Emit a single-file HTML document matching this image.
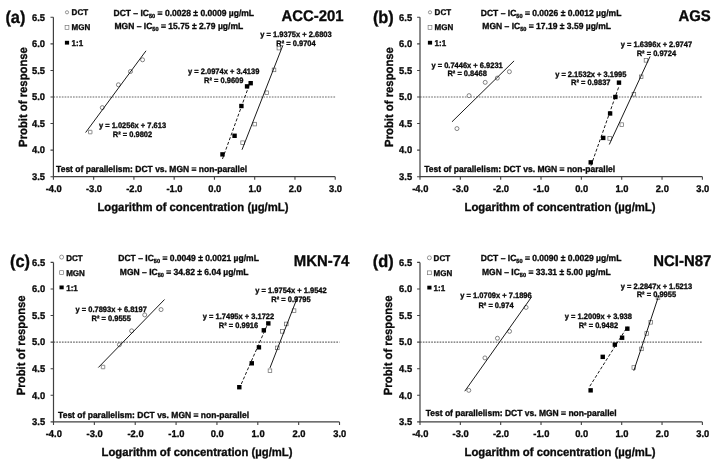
<!DOCTYPE html>
<html><head><meta charset="utf-8"><title>Probit analysis</title>
<style>
html,body{margin:0;padding:0;background:#fff;}
body{width:726px;height:467px;overflow:hidden;font-family:"Liberation Sans",sans-serif;}
svg{display:block;will-change:transform;}
svg text{text-rendering:geometricPrecision;font-family:"Liberation Sans",sans-serif;font-weight:bold;fill:#0a0a0a;stroke:#0a0a0a;stroke-width:0.32px;}
</style></head><body>
<svg width="726" height="467" viewBox="0 0 726 467">
<rect width="726" height="467" fill="#fff"/>
<g id="pa">
<line x1="53.4" y1="97" x2="335.22" y2="97" stroke="#6a6a6a" stroke-width="1.15" stroke-dasharray="1.7 1.1"/>
<path d="M53.4 17.3V176.69H335.22" fill="none" stroke="#404040" stroke-width="1.2"/>
<text transform="translate(45 179.94) scale(1 1.045)" font-size="9.35" text-anchor="end">3.5</text>
<text transform="translate(45 153.38) scale(1 1.045)" font-size="9.35" text-anchor="end">4.0</text>
<text transform="translate(45 126.81) scale(1 1.045)" font-size="9.35" text-anchor="end">4.5</text>
<text transform="translate(45 100.25) scale(1 1.045)" font-size="9.35" text-anchor="end">5.0</text>
<text transform="translate(45 73.69) scale(1 1.045)" font-size="9.35" text-anchor="end">5.5</text>
<text transform="translate(45 47.12) scale(1 1.045)" font-size="9.35" text-anchor="end">6.0</text>
<text transform="translate(45 20.55) scale(1 1.045)" font-size="9.35" text-anchor="end">6.5</text>
<text transform="translate(53.7 192) scale(1 1.045)" font-size="9.35" text-anchor="middle">-4.0</text>
<text transform="translate(93.96 192) scale(1 1.045)" font-size="9.35" text-anchor="middle">-3.0</text>
<text transform="translate(134.22 192) scale(1 1.045)" font-size="9.35" text-anchor="middle">-2.0</text>
<text transform="translate(174.48 192) scale(1 1.045)" font-size="9.35" text-anchor="middle">-1.0</text>
<text transform="translate(214.74 192) scale(1 1.045)" font-size="9.35" text-anchor="middle">0.0</text>
<text transform="translate(255 192) scale(1 1.045)" font-size="9.35" text-anchor="middle">1.0</text>
<text transform="translate(295.26 192) scale(1 1.045)" font-size="9.35" text-anchor="middle">2.0</text>
<text transform="translate(335.52 192) scale(1 1.045)" font-size="9.35" text-anchor="middle">3.0</text>
<path d="M50.5 176.69H53.4M50.5 150.13H53.4M50.5 123.56H53.4M50.5 97H53.4M50.5 70.44H53.4M50.5 43.87H53.4M50.5 17.3H53.4M53.4 176.69V179.69M93.66 176.69V179.69M133.92 176.69V179.69M174.18 176.69V179.69M214.44 176.69V179.69M254.7 176.69V179.69M294.96 176.69V179.69M335.22 176.69V179.69" fill="none" stroke="#404040" stroke-width="1.1"/>
<rect x="88.48" y="130.32" width="3.5" height="3.5" rx="0.3" fill="#fff" stroke="#5c5c5c" stroke-width="0.7"/>
<circle cx="102.31" cy="107.63" r="2" fill="#fff" stroke="#5c5c5c" stroke-width="0.75"/>
<circle cx="118.42" cy="84.78" r="2" fill="#fff" stroke="#5c5c5c" stroke-width="0.75"/>
<circle cx="130.49" cy="71.5" r="2" fill="#fff" stroke="#5c5c5c" stroke-width="0.75"/>
<circle cx="142.57" cy="59.81" r="2" fill="#fff" stroke="#5c5c5c" stroke-width="0.75"/>
<rect x="240.82" y="140.89" width="3.6" height="3.6" fill="#fff" stroke="#666" stroke-width="0.7"/>
<rect x="252.9" y="122.3" width="3.6" height="3.6" fill="#fff" stroke="#666" stroke-width="0.7"/>
<rect x="264.98" y="90.95" width="3.6" height="3.6" fill="#fff" stroke="#666" stroke-width="0.7"/>
<rect x="272.22" y="68.1" width="3.6" height="3.6" fill="#fff" stroke="#666" stroke-width="0.7"/>
<rect x="277.06" y="46.32" width="3.6" height="3.6" fill="#fff" stroke="#666" stroke-width="0.7"/>
<rect x="220.29" y="152.18" width="4.4" height="4.4" fill="#000"/>
<rect x="232.37" y="133.58" width="4.4" height="4.4" fill="#000"/>
<rect x="239.21" y="103.83" width="4.4" height="4.4" fill="#000"/>
<rect x="244.85" y="84.17" width="4.4" height="4.4" fill="#000"/>
<rect x="248.47" y="80.99" width="4.4" height="4.4" fill="#000"/>
<line x1="85.61" y1="132.54" x2="146" y2="50.8" stroke="#000" stroke-width="0.9"/>
<line x1="242.02" y1="149.73" x2="282.88" y2="45.25" stroke="#000" stroke-width="0.9"/>
<line x1="222.49" y1="158.98" x2="250.67" y2="80.98" stroke="#000" stroke-width="0.9" stroke-dasharray="3.1 1.9"/>
<text transform="translate(132.5 128.3) scale(1 1.045)" font-size="7.5" text-anchor="middle">y = 1.0256x + 7.613</text>
<text transform="translate(132.5 137) scale(1 1.045)" font-size="7.5" text-anchor="middle">R² = 0.9802</text>
<text transform="translate(296 36.8) scale(1 1.045)" font-size="7.5" text-anchor="middle">y = 1.9375x + 2.6803</text>
<text transform="translate(296 46.1) scale(1 1.045)" font-size="7.5" text-anchor="middle">R² = 0.9704</text>
<text transform="translate(223.7 74.1) scale(1 1.045)" font-size="7.5" text-anchor="middle">y = 2.0974x + 3.4139</text>
<text transform="translate(223.7 82.7) scale(1 1.045)" font-size="7.5" text-anchor="middle">R² = 0.9609</text>
<circle cx="67" cy="12.3" r="1.6" fill="#fff" stroke="#6a6a6a" stroke-width="0.7"/>
<rect x="65.1" y="25.5" width="3.8" height="3.8" fill="#fff" stroke="#707070" stroke-width="0.65"/>
<rect x="64.9" y="40.8" width="4.2" height="3.8" fill="#000"/>
<text transform="translate(71.6 15.4) scale(1 1.045)" font-size="8">DCT</text>
<text transform="translate(71.6 30.3) scale(1 1.045)" font-size="8">MGN</text>
<text transform="translate(71.6 45.5) scale(1 1.045)" font-size="8">1:1</text>
<text transform="translate(113.5 16.4) scale(1 1.045)" font-size="8.52">DCT – IC<tspan font-size="5.6" dy="1.7">50</tspan><tspan dy="-1.7"> = 0.0028 ± 0.0009 µg/mL</tspan></text>
<text transform="translate(114.5 29.4) scale(1 1.045)" font-size="8.52">MGN – IC<tspan font-size="5.6" dy="1.7">50</tspan><tspan dy="-1.7"> = 15.75 ± 2.79 µg/mL</tspan></text>
<text transform="translate(5.4 22.8) scale(1 1.045)" font-size="16.4">(a)</text>
<text transform="translate(343.6 20.5) scale(1 1.045)" font-size="14.9" text-anchor="end">ACC-201</text>
<text transform="translate(56.1 172.1) scale(1 1.045)" font-size="8.5">Test of parallelism: DCT vs. MGN = non-parallel</text>
<text transform="translate(192.9 210.9) scale(1 1.045)" font-size="11.3" text-anchor="middle">Logarithm of concentration (µg/mL)</text>
<text transform="translate(27 97) rotate(-90) scale(1 1.045)" font-size="11.3" text-anchor="middle">Probit of response</text>
</g>
<g id="pb">
<line x1="420" y1="97" x2="702.38" y2="97" stroke="#6a6a6a" stroke-width="1.15" stroke-dasharray="1.7 1.1"/>
<path d="M420 17.3V176.69H702.38" fill="none" stroke="#404040" stroke-width="1.2"/>
<text transform="translate(412.1 179.94) scale(1 1.045)" font-size="9.35" text-anchor="end">3.5</text>
<text transform="translate(412.1 153.38) scale(1 1.045)" font-size="9.35" text-anchor="end">4.0</text>
<text transform="translate(412.1 126.81) scale(1 1.045)" font-size="9.35" text-anchor="end">4.5</text>
<text transform="translate(412.1 100.25) scale(1 1.045)" font-size="9.35" text-anchor="end">5.0</text>
<text transform="translate(412.1 73.69) scale(1 1.045)" font-size="9.35" text-anchor="end">5.5</text>
<text transform="translate(412.1 47.12) scale(1 1.045)" font-size="9.35" text-anchor="end">6.0</text>
<text transform="translate(412.1 20.55) scale(1 1.045)" font-size="9.35" text-anchor="end">6.5</text>
<text transform="translate(420.3 192) scale(1 1.045)" font-size="9.35" text-anchor="middle">-4.0</text>
<text transform="translate(460.64 192) scale(1 1.045)" font-size="9.35" text-anchor="middle">-3.0</text>
<text transform="translate(500.98 192) scale(1 1.045)" font-size="9.35" text-anchor="middle">-2.0</text>
<text transform="translate(541.32 192) scale(1 1.045)" font-size="9.35" text-anchor="middle">-1.0</text>
<text transform="translate(581.66 192) scale(1 1.045)" font-size="9.35" text-anchor="middle">0.0</text>
<text transform="translate(622 192) scale(1 1.045)" font-size="9.35" text-anchor="middle">1.0</text>
<text transform="translate(662.34 192) scale(1 1.045)" font-size="9.35" text-anchor="middle">2.0</text>
<text transform="translate(702.68 192) scale(1 1.045)" font-size="9.35" text-anchor="middle">3.0</text>
<path d="M417.1 176.69H420M417.1 150.13H420M417.1 123.56H420M417.1 97H420M417.1 70.44H420M417.1 43.87H420M417.1 17.3H420M420 176.69V179.69M460.34 176.69V179.69M500.68 176.69V179.69M541.02 176.69V179.69M581.36 176.69V179.69M621.7 176.69V179.69M662.04 176.69V179.69M702.38 176.69V179.69" fill="none" stroke="#404040" stroke-width="1.1"/>
<circle cx="456.96" cy="128.58" r="2" fill="#fff" stroke="#5c5c5c" stroke-width="0.75"/>
<circle cx="469.06" cy="95.64" r="2" fill="#fff" stroke="#5c5c5c" stroke-width="0.75"/>
<circle cx="485.19" cy="82.35" r="2" fill="#fff" stroke="#5c5c5c" stroke-width="0.75"/>
<circle cx="497.3" cy="78.1" r="2" fill="#fff" stroke="#5c5c5c" stroke-width="0.75"/>
<circle cx="509.4" cy="71.73" r="2" fill="#fff" stroke="#5c5c5c" stroke-width="0.75"/>
<rect x="607.9" y="136.64" width="3.6" height="3.6" fill="#fff" stroke="#666" stroke-width="0.7"/>
<rect x="620" y="122.83" width="3.6" height="3.6" fill="#fff" stroke="#666" stroke-width="0.7"/>
<rect x="632.1" y="92.54" width="3.6" height="3.6" fill="#fff" stroke="#666" stroke-width="0.7"/>
<rect x="639.36" y="75.01" width="3.6" height="3.6" fill="#fff" stroke="#666" stroke-width="0.7"/>
<rect x="644.2" y="58.54" width="3.6" height="3.6" fill="#fff" stroke="#666" stroke-width="0.7"/>
<rect x="588.54" y="160.15" width="4.4" height="4.4" fill="#000"/>
<rect x="601.04" y="135.71" width="4.4" height="4.4" fill="#000"/>
<rect x="607.9" y="111.27" width="4.4" height="4.4" fill="#000"/>
<rect x="613.15" y="94.8" width="4.4" height="4.4" fill="#000"/>
<rect x="616.78" y="80.45" width="4.4" height="4.4" fill="#000"/>
<line x1="451.97" y1="121.82" x2="514.09" y2="60.89" stroke="#000" stroke-width="0.9"/>
<line x1="609.29" y1="144.5" x2="650.04" y2="56.51" stroke="#000" stroke-width="0.9"/>
<line x1="590.94" y1="165.78" x2="618.98" y2="86.27" stroke="#000" stroke-width="0.9" stroke-dasharray="3.1 1.9"/>
<text transform="translate(467.1 67.7) scale(1 1.045)" font-size="7.5" text-anchor="middle">y = 0.7446x + 6.9231</text>
<text transform="translate(467.1 76.2) scale(1 1.045)" font-size="7.5" text-anchor="middle">R² = 0.8468</text>
<text transform="translate(656.4 46.9) scale(1 1.045)" font-size="7.5" text-anchor="middle">y = 1.6396x + 2.9747</text>
<text transform="translate(656.4 55.6) scale(1 1.045)" font-size="7.5" text-anchor="middle">R² = 0.9724</text>
<text transform="translate(590.8 76.7) scale(1 1.045)" font-size="7.5" text-anchor="middle">y = 2.1532x + 3.1995</text>
<text transform="translate(590.8 85.2) scale(1 1.045)" font-size="7.5" text-anchor="middle">R² = 0.9837</text>
<circle cx="430" cy="12.3" r="1.6" fill="#fff" stroke="#6a6a6a" stroke-width="0.7"/>
<rect x="428.1" y="25.5" width="3.8" height="3.8" fill="#fff" stroke="#707070" stroke-width="0.65"/>
<rect x="427.9" y="40.8" width="4.2" height="3.8" fill="#000"/>
<text transform="translate(434.6 15.4) scale(1 1.045)" font-size="8">DCT</text>
<text transform="translate(434.6 30.3) scale(1 1.045)" font-size="8">MGN</text>
<text transform="translate(434.6 45.5) scale(1 1.045)" font-size="8">1:1</text>
<text transform="translate(480.8 16.4) scale(1 1.045)" font-size="8.52">DCT – IC<tspan font-size="5.6" dy="1.7">50</tspan><tspan dy="-1.7"> = 0.0026 ± 0.0012 µg/mL</tspan></text>
<text transform="translate(482.3 29.4) scale(1 1.045)" font-size="8.52">MGN – IC<tspan font-size="5.6" dy="1.7">50</tspan><tspan dy="-1.7"> = 17.19 ± 3.59 µg/mL</tspan></text>
<text transform="translate(372.9 22.8) scale(1 1.045)" font-size="16.4">(b)</text>
<text transform="translate(710.7 20.5) scale(1 1.045)" font-size="14.9" text-anchor="end">AGS</text>
<text transform="translate(424.2 171.6) scale(1 1.045)" font-size="8.5">Test of parallelism: DCT vs. MGN = non-parallel</text>
<text transform="translate(560 210.9) scale(1 1.045)" font-size="11.3" text-anchor="middle">Logarithm of concentration (µg/mL)</text>
<text transform="translate(392.6 97) rotate(-90) scale(1 1.045)" font-size="11.3" text-anchor="middle">Probit of response</text>
</g>
<g id="pc">
<line x1="53.5" y1="342.15" x2="339.52" y2="342.15" stroke="#6a6a6a" stroke-width="1.15" stroke-dasharray="1.7 1.1"/>
<path d="M53.5 262.39V421.9H339.52" fill="none" stroke="#404040" stroke-width="1.2"/>
<text transform="translate(45.1 425.15) scale(1 1.045)" font-size="9.35" text-anchor="end">3.5</text>
<text transform="translate(45.1 398.57) scale(1 1.045)" font-size="9.35" text-anchor="end">4.0</text>
<text transform="translate(45.1 371.98) scale(1 1.045)" font-size="9.35" text-anchor="end">4.5</text>
<text transform="translate(45.1 345.4) scale(1 1.045)" font-size="9.35" text-anchor="end">5.0</text>
<text transform="translate(45.1 318.81) scale(1 1.045)" font-size="9.35" text-anchor="end">5.5</text>
<text transform="translate(45.1 292.23) scale(1 1.045)" font-size="9.35" text-anchor="end">6.0</text>
<text transform="translate(45.1 265.64) scale(1 1.045)" font-size="9.35" text-anchor="end">6.5</text>
<text transform="translate(53.8 436.8) scale(1 1.045)" font-size="9.35" text-anchor="middle">-4.0</text>
<text transform="translate(94.66 436.8) scale(1 1.045)" font-size="9.35" text-anchor="middle">-3.0</text>
<text transform="translate(135.52 436.8) scale(1 1.045)" font-size="9.35" text-anchor="middle">-2.0</text>
<text transform="translate(176.38 436.8) scale(1 1.045)" font-size="9.35" text-anchor="middle">-1.0</text>
<text transform="translate(217.24 436.8) scale(1 1.045)" font-size="9.35" text-anchor="middle">0.0</text>
<text transform="translate(258.1 436.8) scale(1 1.045)" font-size="9.35" text-anchor="middle">1.0</text>
<text transform="translate(298.96 436.8) scale(1 1.045)" font-size="9.35" text-anchor="middle">2.0</text>
<text transform="translate(339.82 436.8) scale(1 1.045)" font-size="9.35" text-anchor="middle">3.0</text>
<path d="M50.6 421.9H53.5M50.6 395.32H53.5M50.6 368.73H53.5M50.6 342.15H53.5M50.6 315.56H53.5M50.6 288.98H53.5M50.6 262.39H53.5M53.5 421.9V424.9M94.36 421.9V424.9M135.22 421.9V424.9M176.08 421.9V424.9M216.94 421.9V424.9M257.8 421.9V424.9M298.66 421.9V424.9M339.52 421.9V424.9" fill="none" stroke="#404040" stroke-width="1.1"/>
<rect x="101.28" y="365.26" width="3.5" height="3.5" rx="0.3" fill="#fff" stroke="#5c5c5c" stroke-width="0.7"/>
<circle cx="119.38" cy="344.68" r="2" fill="#fff" stroke="#5c5c5c" stroke-width="0.75"/>
<circle cx="131.63" cy="330.85" r="2" fill="#fff" stroke="#5c5c5c" stroke-width="0.75"/>
<circle cx="144.71" cy="314.9" r="2" fill="#fff" stroke="#5c5c5c" stroke-width="0.75"/>
<circle cx="161.05" cy="309.58" r="2" fill="#fff" stroke="#5c5c5c" stroke-width="0.75"/>
<rect x="268.16" y="368.93" width="3.6" height="3.6" fill="#fff" stroke="#666" stroke-width="0.7"/>
<rect x="275.51" y="346.07" width="3.6" height="3.6" fill="#fff" stroke="#666" stroke-width="0.7"/>
<rect x="280.42" y="329.58" width="3.6" height="3.6" fill="#fff" stroke="#666" stroke-width="0.7"/>
<rect x="284.5" y="322.14" width="3.6" height="3.6" fill="#fff" stroke="#666" stroke-width="0.7"/>
<rect x="292.27" y="308.85" width="3.6" height="3.6" fill="#fff" stroke="#666" stroke-width="0.7"/>
<rect x="237.11" y="385.01" width="4.4" height="4.4" fill="#000"/>
<rect x="249.58" y="361.09" width="4.4" height="4.4" fill="#000"/>
<rect x="256.73" y="345.14" width="4.4" height="4.4" fill="#000"/>
<rect x="261.63" y="328.12" width="4.4" height="4.4" fill="#000"/>
<rect x="266.12" y="321.21" width="4.4" height="4.4" fill="#000"/>
<line x1="98.35" y1="367.5" x2="164.54" y2="299.51" stroke="#000" stroke-width="0.9"/>
<line x1="269.96" y1="367.95" x2="297.74" y2="296.53" stroke="#000" stroke-width="0.9"/>
<line x1="239.31" y1="388.57" x2="268.32" y2="322.53" stroke="#000" stroke-width="0.9" stroke-dasharray="3.1 1.9"/>
<text transform="translate(111.2 312) scale(1 1.045)" font-size="7.5" text-anchor="middle">y = 0.7893x + 6.8197</text>
<text transform="translate(111.2 320.8) scale(1 1.045)" font-size="7.5" text-anchor="middle">R² = 0.9555</text>
<text transform="translate(291 292.9) scale(1 1.045)" font-size="7.5" text-anchor="middle">y = 1.9754x + 1.9542</text>
<text transform="translate(291 301.7) scale(1 1.045)" font-size="7.5" text-anchor="middle">R² = 0.9795</text>
<text transform="translate(238.5 318.7) scale(1 1.045)" font-size="7.5" text-anchor="middle">y = 1.7495x + 3.1722</text>
<text transform="translate(238.5 327.5) scale(1 1.045)" font-size="7.5" text-anchor="middle">R² = 0.9916</text>
<circle cx="61.6" cy="257.1" r="2.0" fill="#fff" stroke="#6a6a6a" stroke-width="0.7"/>
<rect x="59.7" y="270.7" width="3.8" height="3.8" fill="#fff" stroke="#707070" stroke-width="0.65"/>
<rect x="59.5" y="285.5" width="4.2" height="3.8" fill="#000"/>
<text transform="translate(66.2 260.7) scale(1 1.045)" font-size="8">DCT</text>
<text transform="translate(66.2 275.7) scale(1 1.045)" font-size="8">MGN</text>
<text transform="translate(66.2 290.7) scale(1 1.045)" font-size="8">1:1</text>
<text transform="translate(118.3 261.3) scale(1 1.045)" font-size="8.52">DCT – IC<tspan font-size="5.6" dy="1.7">50</tspan><tspan dy="-1.7"> = 0.0049 ± 0.0021 µg/mL</tspan></text>
<text transform="translate(119.8 274.9) scale(1 1.045)" font-size="8.52">MGN – IC<tspan font-size="5.6" dy="1.7">50</tspan><tspan dy="-1.7"> = 34.82 ± 6.04 µg/mL</tspan></text>
<text transform="translate(10 267) scale(1 1.045)" font-size="16.4">(c)</text>
<text transform="translate(349.2 265.5) scale(1 1.045)" font-size="14.9" text-anchor="end">MKN-74</text>
<text transform="translate(58.1 417.5) scale(1 1.045)" font-size="8.5">Test of parallelism: DCT vs. MGN = non-parallel</text>
<text transform="translate(197 455.5) scale(1 1.045)" font-size="11.3" text-anchor="middle">Logarithm of concentration (µg/mL)</text>
<text transform="translate(25 345.3) rotate(-90) scale(1 1.045)" font-size="11.3" text-anchor="middle">Probit of response</text>
</g>
<g id="pd">
<line x1="420" y1="342.15" x2="702.38" y2="342.15" stroke="#6a6a6a" stroke-width="1.15" stroke-dasharray="1.7 1.1"/>
<path d="M420 262.39V421.9H702.38" fill="none" stroke="#404040" stroke-width="1.2"/>
<text transform="translate(412.1 425.15) scale(1 1.045)" font-size="9.35" text-anchor="end">3.5</text>
<text transform="translate(412.1 398.57) scale(1 1.045)" font-size="9.35" text-anchor="end">4.0</text>
<text transform="translate(412.1 371.98) scale(1 1.045)" font-size="9.35" text-anchor="end">4.5</text>
<text transform="translate(412.1 345.4) scale(1 1.045)" font-size="9.35" text-anchor="end">5.0</text>
<text transform="translate(412.1 318.81) scale(1 1.045)" font-size="9.35" text-anchor="end">5.5</text>
<text transform="translate(412.1 292.23) scale(1 1.045)" font-size="9.35" text-anchor="end">6.0</text>
<text transform="translate(412.1 265.64) scale(1 1.045)" font-size="9.35" text-anchor="end">6.5</text>
<text transform="translate(420.3 436.8) scale(1 1.045)" font-size="9.35" text-anchor="middle">-4.0</text>
<text transform="translate(460.64 436.8) scale(1 1.045)" font-size="9.35" text-anchor="middle">-3.0</text>
<text transform="translate(500.98 436.8) scale(1 1.045)" font-size="9.35" text-anchor="middle">-2.0</text>
<text transform="translate(541.32 436.8) scale(1 1.045)" font-size="9.35" text-anchor="middle">-1.0</text>
<text transform="translate(581.66 436.8) scale(1 1.045)" font-size="9.35" text-anchor="middle">0.0</text>
<text transform="translate(622 436.8) scale(1 1.045)" font-size="9.35" text-anchor="middle">1.0</text>
<text transform="translate(662.34 436.8) scale(1 1.045)" font-size="9.35" text-anchor="middle">2.0</text>
<text transform="translate(702.68 436.8) scale(1 1.045)" font-size="9.35" text-anchor="middle">3.0</text>
<path d="M417.1 421.9H420M417.1 395.32H420M417.1 368.73H420M417.1 342.15H420M417.1 315.56H420M417.1 288.98H420M417.1 262.39H420M420 421.9V424.9M460.34 421.9V424.9M500.68 421.9V424.9M541.02 421.9V424.9M581.36 421.9V424.9M621.7 421.9V424.9M662.04 421.9V424.9M702.38 421.9V424.9" fill="none" stroke="#404040" stroke-width="1.1"/>
<circle cx="468.81" cy="390.35" r="2" fill="#fff" stroke="#5c5c5c" stroke-width="0.75"/>
<circle cx="484.94" cy="357.92" r="2" fill="#fff" stroke="#5c5c5c" stroke-width="0.75"/>
<circle cx="497.45" cy="338.25" r="2" fill="#fff" stroke="#5c5c5c" stroke-width="0.75"/>
<circle cx="509.55" cy="331.33" r="2" fill="#fff" stroke="#5c5c5c" stroke-width="0.75"/>
<circle cx="526.09" cy="307.41" r="2" fill="#fff" stroke="#5c5c5c" stroke-width="0.75"/>
<rect x="632" y="365.69" width="3.6" height="3.6" fill="#fff" stroke="#666" stroke-width="0.7"/>
<rect x="639.66" y="347.08" width="3.6" height="3.6" fill="#fff" stroke="#666" stroke-width="0.7"/>
<rect x="644.91" y="331.66" width="3.6" height="3.6" fill="#fff" stroke="#666" stroke-width="0.7"/>
<rect x="648.94" y="320.5" width="3.6" height="3.6" fill="#fff" stroke="#666" stroke-width="0.7"/>
<rect x="656.2" y="296.04" width="3.6" height="3.6" fill="#fff" stroke="#666" stroke-width="0.7"/>
<rect x="588.43" y="388.15" width="4.4" height="4.4" fill="#000"/>
<rect x="600.54" y="354.66" width="4.4" height="4.4" fill="#000"/>
<rect x="612.64" y="342.43" width="4.4" height="4.4" fill="#000"/>
<rect x="619.9" y="335.51" width="4.4" height="4.4" fill="#000"/>
<rect x="625.14" y="326.48" width="4.4" height="4.4" fill="#000"/>
<line x1="464.77" y1="391.2" x2="531.54" y2="296.97" stroke="#000" stroke-width="0.9"/>
<line x1="633.8" y1="370.76" x2="658.81" y2="295.44" stroke="#000" stroke-width="0.9"/>
<line x1="589.83" y1="386.2" x2="627.34" y2="326.81" stroke="#000" stroke-width="0.9" stroke-dasharray="3.1 1.9"/>
<text transform="translate(496 298.4) scale(1 1.045)" font-size="7.5" text-anchor="middle">y = 1.0709x + 7.1896</text>
<text transform="translate(496 307.7) scale(1 1.045)" font-size="7.5" text-anchor="middle">R² = 0.974</text>
<text transform="translate(656.4 288.9) scale(1 1.045)" font-size="7.5" text-anchor="middle">y = 2.2847x + 1.5213</text>
<text transform="translate(656.4 297.4) scale(1 1.045)" font-size="7.5" text-anchor="middle">R² = 0.9955</text>
<text transform="translate(598.4 318.7) scale(1 1.045)" font-size="7.5" text-anchor="middle">y = 1.2009x + 3.938</text>
<text transform="translate(598.4 327.5) scale(1 1.045)" font-size="7.5" text-anchor="middle">R² = 0.9482</text>
<circle cx="429.4" cy="257.8" r="2.0" fill="#fff" stroke="#6a6a6a" stroke-width="0.7"/>
<rect x="427.5" y="270.9" width="3.8" height="3.8" fill="#fff" stroke="#707070" stroke-width="0.65"/>
<rect x="427.3" y="285.7" width="4.2" height="3.8" fill="#000"/>
<text transform="translate(433.6 260.7) scale(1 1.045)" font-size="8">DCT</text>
<text transform="translate(433.6 275.7) scale(1 1.045)" font-size="8">MGN</text>
<text transform="translate(433.6 290.7) scale(1 1.045)" font-size="8">1:1</text>
<text transform="translate(480.8 261.3) scale(1 1.045)" font-size="8.52">DCT – IC<tspan font-size="5.6" dy="1.7">50</tspan><tspan dy="-1.7"> = 0.0090 ± 0.0029 µg/mL</tspan></text>
<text transform="translate(482 274.9) scale(1 1.045)" font-size="8.52">MGN – IC<tspan font-size="5.6" dy="1.7">50</tspan><tspan dy="-1.7"> = 33.31 ± 5.00 µg/mL</tspan></text>
<text transform="translate(372.7 267) scale(1 1.045)" font-size="16.4">(d)</text>
<text transform="translate(711.2 265.5) scale(1 1.045)" font-size="14.9" text-anchor="end">NCI-N87</text>
<text transform="translate(425.7 416) scale(1 1.045)" font-size="8.5">Test of parallelism: DCT vs. MGN = non-parallel</text>
<text transform="translate(560 455.5) scale(1 1.045)" font-size="11.3" text-anchor="middle">Logarithm of concentration (µg/mL)</text>
<text transform="translate(392 345.3) rotate(-90) scale(1 1.045)" font-size="11.3" text-anchor="middle">Probit of response</text>
</g>
</svg>
</body></html>
